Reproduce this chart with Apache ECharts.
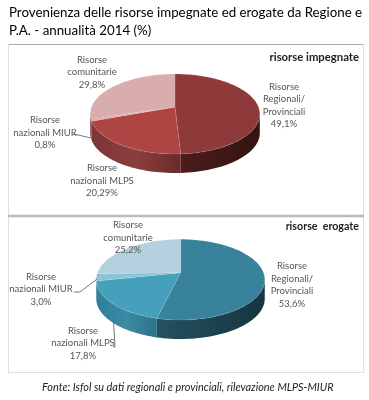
<!DOCTYPE html>
<html><head><meta charset="utf-8">
<style>html,body{margin:0;padding:0;background:#fff}#c{width:369px;height:400px;filter:blur(0.35px)}</style>
<script src="https://cdn.jsdelivr.net/npm/echarts@6/dist/echarts.min.js"></script>
</head><body><div id="c"></div>
<script>
const categories = ["Risorse\nRegionali/\nProvinciali", "Risorse\nnazionali MLPS", "Risorse\nnazionali MIUR", "Risorse\ncomunitarie"];
const valuesImpegnate = [49.1, 20.29, 0.8, 29.8];
const valuesErogate = [53.6, 17.8, 3.0, 25.2];
const labelsImpegnate = ["49,1%", "20,29%", "0,8%", "29,8%"];
const labelsErogate = ["53,6%", "17,8%", "3,0%", "25,2%"];

// Layout and styles, kept apart from the data
const geomA = {cx:175, top:74, apex:107, bottom:154, R:83.5, depth:19};
const geomB = {cx:180.5, top:239.3, apex:272.7, bottom:320, R:83, depth:19};
const labelPosA = [[284,105.6],[102,180.7],[45,132.7],[92,72]];
const labelPosB = [[292,285],[83,343],[41,289],[128,237.7]];
const topColorsA = ["#8f3a3a","#ad4543","#d8a5a3","#d9adad"];
const topColorsB = ["#38829b","#44a0bb","#8cc4d5","#b2d0dd"];
const sideColorsA = [["#4c1c1c","#341312"],["#7d3635","#8a3f3e","#6a2a2a"],["#7d3635","#7d3635"],["#7d3635","#7d3635"]];
const sideColorsB = [["#245160","#163540"],["#2f7f98","#3c8ba4","#2e7088"],["#2f7f98","#2f7f98"],["#2f7f98","#2f7f98"]];

function pieSeries(values, pct, geom, labelPos, tops, sides){
  const total = values.reduce((a,b)=>a+b,0);
  const d1 = geom.apex-geom.top, d2 = geom.bottom-geom.apex;
  const c = -(d2-d1)/(d2+d1);
  const a = geom.apex-geom.top*(1-c);
  const pt = (t,dy)=>{
    const u=Math.sin(t), v=-Math.cos(t), w=1+c*v;
    return [geom.cx+geom.R*u/w, (a*v+geom.apex)/w+(dy||0)];
  };
  const deg=Math.PI/180, visA=100*deg, visB=260*deg;
  return {
    type:'custom', coordinateSystem:'none', silent:true, animation:false,
    data: values.map((v,i)=>({value:v,name:categories[i]})),
    renderItem:(params,api)=>{
      const i=params.dataIndex;
      let before=0; for(let k=0;k<i;k++) before+=values[k];
      const t0=before/total*2*Math.PI, t1=(before+api.value(0))/total*2*Math.PI;
      const children=[];
      const pts=[[geom.cx,geom.apex]];
      const n=Math.max(4,Math.ceil((t1-t0)/(2*deg)));
      for(let k=0;k<=n;k++) pts.push(pt(t0+(t1-t0)*k/n));
      children.push({type:'polygon',z2:2,shape:{points:pts},style:{fill:tops[i],stroke:'rgba(255,255,255,0.22)',lineWidth:0.5}});
      const s0=Math.max(t0,visA), s1=Math.min(t1,visB);
      if(s1>s0){
        const f=[],b=[],m=Math.ceil((s1-s0)/(2*deg));
        for(let k=0;k<=m;k++){const t=s0+(s1-s0)*k/m;f.push(pt(t));b.unshift(pt(t,geom.depth));}
        const cols=sides[i];
        const stops=cols.map((col,k)=>({offset:k/(cols.length-1),color:col}));
        const fill=new echarts.graphic.LinearGradient(0,0,1,0,stops);
        children.push({type:'polygon',z2:1,shape:{points:f.concat(b)},style:{fill:fill}});
      }
      children.push({type:'text',z2:3,style:{
        text:categories[i]+"\n"+pct[i],x:labelPos[i][0],y:labelPos[i][1],
        align:'center',verticalAlign:'middle',
        font:'9.5px Lato, sans-serif',lineHeight:12.5,fill:'#555'}});
      return {type:'group',children};
    }
  };
}

const hline=(x1,y1,x2,y2,color,w)=>({type:'line',shape:{x1,y1,x2,y2},style:{stroke:color,lineWidth:w}});
const leader=(pts)=>({type:'polyline',z:5,shape:{points:pts},style:{stroke:'#555',lineWidth:0.8,fill:null}});

const chart=echarts.init(document.getElementById('c'),null,{renderer:'canvas',width:369,height:400});
chart.setOption({
  backgroundColor:'#fff',
  title:[
    {text:"Provenienza delle risorse impegnate ed erogate da Regione e\nP.A. - annualità 2014 (%)",left:9,top:4,padding:0,
     textStyle:{fontFamily:'Lato',fontSize:13.3,fontWeight:'normal',color:'#000',lineHeight:17.5}},
    {text:"risorse impegnate",right:10,top:51,padding:0,textStyle:{fontFamily:'Lato',fontSize:11.3,fontWeight:'bold',color:'#222',lineHeight:12}},
    {text:"risorse  erogate",right:10,top:221,padding:0,textStyle:{fontFamily:'Lato',fontSize:10.7,fontWeight:'bold',color:'#222',lineHeight:12}},
    {text:"Fonte: Isfol su dati regionali e provinciali, rilevazione MLPS-MIUR",left:42,top:381,padding:0,
     textStyle:{fontFamily:'Lato',fontSize:10.9,fontStyle:'italic',fontWeight:'normal',color:'#222',lineHeight:12}}
  ],
  graphic:[
    hline(8,44.5,364,44.5,'#aaa',1),
    hline(8.5,44,8.5,373,'#e0e0e0',1),
    hline(363.5,44,363.5,373,'#e0e0e0',1),
    hline(8,372.5,364,372.5,'#e0e0e0',1),
    hline(8,216,364,216,'#bbb',2.5),
    leader([[72.5,134.5],[76,134.5],[91,138]]),
    leader([[74,292],[80,292],[97,279]]),
    leader([[113,347],[115,347],[113.5,322]])
  ],
  series:[
    pieSeries(valuesImpegnate,labelsImpegnate,geomA,labelPosA,topColorsA,sideColorsA),
    pieSeries(valuesErogate,labelsErogate,geomB,labelPosB,topColorsB,sideColorsB)
  ]
});
</script></body></html>
